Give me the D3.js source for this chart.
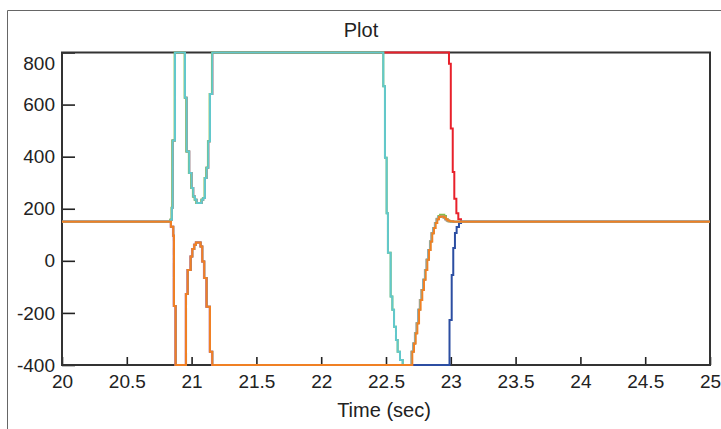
<!DOCTYPE html>
<meta charset="utf-8">
<script src="https://d3js.org/d3.v7.min.js"></script>
<style>
    body { margin: 0; background: #fff; }
    text { font-family: "Liberation Sans", Arial, sans-serif; fill: #222; }
</style>
<div id="vis"></div>
<script>
    // tick values
    var xTicks = [20, 20.5, 21, 21.5, 22, 22.5, 23, 23.5, 24, 24.5, 25];
    var yTicks = [-400, -200, 0, 200, 400, 600, 800];

    // series, [time, value] (step data)
    var red = [[20, 150], [20.838, 158], [20.848, 204], [20.854, 462], [20.872, 800],
        [20.949, 626], [20.962, 420], [20.982, 337], [21.0, 280], [21.013, 247], [21.026, 235],
        [21.039, 222], [21.078, 235], [21.09, 241], [21.103, 318], [21.116, 357], [21.129, 459],
        [21.142, 641], [21.16, 800], [22.986, 757], [23.0, 508], [23.015, 341], [23.027, 238],
        [23.043, 183], [23.058, 160], [23.079, 150], [25, 150]];

    var blue = [[20, 150], [20.833, 150], [20.841, 131], [20.859, 96], [20.864, -173], [20.877, -400],
        [20.957, -127], [20.97, -35], [20.993, 17], [21.006, 45], [21.021, 62], [21.034, 70],
        [21.07, 55], [21.083, -3], [21.098, -66], [21.116, -176], [21.142, -349], [21.16, -400],
        [22.99, -227], [23.007, -54], [23.019, 49], [23.032, 107], [23.045, 130], [23.063, 145],
        [23.079, 150], [25, 150]];

    var green = [[20, 150], [20.835, 158], [20.845, 204], [20.851, 462], [20.869, 800],
        [20.946, 626], [20.959, 420], [20.979, 337], [20.997, 280], [21.01, 247], [21.023, 235],
        [21.036, 222], [21.075, 235], [21.087, 241], [21.1, 318], [21.113, 357], [21.126, 459],
        [21.139, 641], [21.157, 800], [22.479, 670], [22.492, 396], [22.505, 183], [22.515, 31],
        [22.536, -137], [22.549, -188], [22.562, -253], [22.577, -304], [22.59, -349], [22.608, -381],
        [22.629, -400], [22.698, -349], [22.711, -317], [22.724, -278], [22.737, -240], [22.75, -188],
        [22.762, -150], [22.775, -112], [22.788, -73], [22.801, -35], [22.814, 4], [22.827, 42],
        [22.84, 74], [22.852, 106], [22.865, 126], [22.878, 145], [22.891, 162], [22.904, 172],
        [22.917, 177], [22.95, 172], [22.963, 160], [22.977, 152], [23.0, 150], [25, 150]];

    var purple = [[20, 150], [20.83, 150], [20.838, 131], [20.856, 96], [20.861, -173], [20.874, -400],
        [20.954, -127], [20.967, -35], [20.99, 17], [21.003, 45], [21.018, 62], [21.031, 70],
        [21.067, 55], [21.08, -3], [21.095, -66], [21.113, -176], [21.139, -349], [21.157, -400],
        [22.697, -349], [22.71, -317], [22.723, -278], [22.736, -240], [22.749, -188], [22.761, -150],
        [22.774, -112], [22.787, -73], [22.8, -35], [22.813, 4], [22.826, 42], [22.839, 74],
        [22.851, 106], [22.864, 126], [22.877, 145], [22.89, 160], [22.903, 168], [22.916, 170],
        [22.942, 166], [22.955, 160], [22.968, 155], [22.984, 152], [23.014, 150], [25, 150]];

    var cyan = [[20, 150], [20.838, 158], [20.848, 204], [20.854, 462], [20.872, 800],
        [20.949, 626], [20.962, 420], [20.982, 337], [21.0, 280], [21.013, 247], [21.026, 235],
        [21.039, 222], [21.078, 235], [21.09, 241], [21.103, 318], [21.116, 357], [21.129, 459],
        [21.142, 641], [21.16, 800], [22.479, 670], [22.492, 396], [22.505, 183], [22.515, 31],
        [22.536, -137], [22.549, -188], [22.562, -253], [22.577, -304], [22.59, -349], [22.608, -381],
        [22.629, -400], [22.699, -349], [22.712, -317], [22.725, -278], [22.738, -240], [22.751, -188],
        [22.763, -150], [22.776, -112], [22.789, -73], [22.802, -35], [22.815, 4], [22.828, 42],
        [22.841, 74], [22.853, 106], [22.866, 126], [22.879, 145], [22.892, 160], [22.905, 168],
        [22.918, 170], [22.944, 166], [22.957, 160], [22.97, 155], [22.986, 152], [23.016, 150], [25, 150]];

    var orange = [[20, 150], [20.833, 150], [20.841, 131], [20.859, 96], [20.864, -173], [20.877, -400],
        [20.957, -127], [20.97, -35], [20.993, 17], [21.006, 45], [21.021, 62], [21.034, 70],
        [21.07, 55], [21.083, -3], [21.098, -66], [21.116, -176], [21.142, -349], [21.16, -400],
        [22.703, -349], [22.716, -317], [22.729, -278], [22.742, -240], [22.755, -188], [22.767, -150],
        [22.78, -112], [22.793, -73], [22.806, -35], [22.819, 4], [22.832, 42], [22.845, 74],
        [22.857, 106], [22.87, 126], [22.883, 145], [22.896, 160], [22.909, 168], [22.922, 170],
        [22.948, 166], [22.961, 160], [22.974, 155], [22.99, 152], [23.02, 150], [25, 150]];

    // draw order: bottom first
    var series = [
        { d: red, c: "#e8212b" },
        { d: blue, c: "#2c4ea2" },
        { d: green, c: "#86bc4a" },
        { d: purple, c: "#c07a98" },
        { d: cyan, c: "#62c8cc" },
        { d: orange, c: "#f08024" }
    ];

    // dimensions&&margins
    var W = 721, H = 429;
    var mgn = { top: 52.5, rgt: 11, btm: 64, lft: 62 };
    var wid = W - mgn.lft - mgn.rgt,
        hgt = H - mgn.top - mgn.btm;

    var svg = d3.select("#vis")
        .append("svg")
        .attr("width", W)
        .attr("height", H);

    // outer frame (top + left only)
    svg.append("path")
        .attr("d", "M7.5," + H + "V10.5H" + W)
        .attr("fill", "none")
        .attr("stroke", "#666")
        .attr("stroke-width", 1);

    svg.append("text")
        .attr("x", 361)
        .attr("y", 37)
        .attr("text-anchor", "middle")
        .style("font-size", "20px")
        .text("Plot");

    var g = svg.append("g")
        .attr("transform", "translate(" + mgn.lft + "," + mgn.top + ")");

    var x = d3.scaleLinear().domain([20, 25]).range([0, wid]).clamp(true);
    var y = d3.scaleLinear().domain([-400, 800]).range([hgt, 0]).clamp(true);

    var fmt = function (d) { return String(d); };

    // axes
    var xAx = g.append("g")
        .attr("transform", "translate(0," + hgt + ")")
        .call(d3.axisBottom(x).tickValues(xTicks).tickSize(-8).tickPadding(10).tickFormat(fmt));
    var yAx = g.append("g")
        .call(d3.axisLeft(y).tickValues(yTicks).tickSize(-13).tickPadding(7).tickFormat(fmt));
    [xAx, yAx].forEach(function (a) {
        a.select(".domain").remove();
        a.selectAll("line").attr("stroke", "#222").attr("stroke-width", 1.6);
        a.selectAll("text").style("font-size", "19px").attr("fill", "#222");
    });
    yAx.selectAll(".tick").filter(function (d) { return d === 800; })
        .select("text").attr("y", 11);

    // plot box
    g.append("rect")
        .attr("width", wid)
        .attr("height", hgt)
        .attr("fill", "none")
        .attr("stroke", "#333")
        .attr("stroke-width", 2);

    // lines
    var line = d3.line()
        .curve(d3.curveStepAfter)
        .x(function (d) { return x(d[0]); })
        .y(function (d) { return y(d[1]); });

    g.selectAll(".ln")
        .data(series)
        .enter()
        .append("path")
        .attr("class", "ln")
        .attr("d", function (s) { return line(s.d); })
        .attr("fill", "none")
        .attr("stroke", function (s) { return s.c; })
        .attr("stroke-width", 2);

    svg.append("text")
        .attr("x", mgn.lft + wid / 2 - 2)
        .attr("y", 417)
        .attr("text-anchor", "middle")
        .style("font-size", "20px")
        .text("Time (sec)");
</script>
